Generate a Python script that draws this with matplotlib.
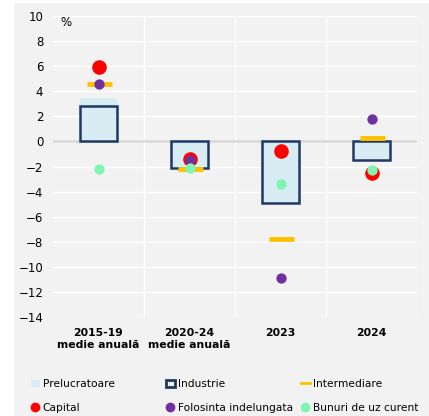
import matplotlib.pyplot as plt
import numpy as np
from matplotlib.patches import Rectangle
from matplotlib.lines import Line2D

# date
categorii = ["2015-19\nmedie anuală", "2020-24\nmedie anuală", "2023", "2024"]
prelucratoare = [3.5, -2.1, -4.9, -1.5]
industrie = [2.8, -2.1, -4.9, -1.5]
intermediare = [4.6, -2.2, -7.8, 0.3]
capital = [5.9, -1.4, -0.8, -2.5]
folosinta = [4.6, -1.5, -10.9, 1.8]
bunuri = [-2.2, -2.1, -3.4, -2.3]

bg = "#f2f2f2"
c_prel = "#d8ecf3"
c_ind = "#203864"
c_int = "#ffc000"
c_cap = "#ff0000"
c_fol = "#7030a0"
c_bun = "#80f5b0"

fig = plt.figure(figsize=(4.29, 4.16), dpi=100, facecolor=bg)
# margine alba sus si in stanga
fig.add_artist(Rectangle((0, 0), 14/429, 1, transform=fig.transFigure,
                         facecolor="white", edgecolor="none", zorder=-1))
fig.add_artist(Rectangle((0, 1 - 3/416), 1, 3/416, transform=fig.transFigure,
                         facecolor="white", edgecolor="none", zorder=-1))
ax = fig.add_axes([53/429, 99/416, 364/429, 301/416])
ax.set_facecolor(bg)

x = np.arange(len(categorii))
w = 0.4
ax.bar(x, prelucratoare, width=w, color=c_prel, zorder=2)
ax.bar(x, industrie, width=w, facecolor="none", edgecolor=c_ind, linewidth=1.8, zorder=3)
ax.plot(x, intermediare, linestyle="none", marker="_", markersize=18,
        markeredgewidth=3.5, color=c_int, zorder=4)
ax.scatter(x, capital, s=110, color=c_cap, zorder=5, linewidths=0)
ax.scatter(x, folosinta, s=55, color=c_fol, zorder=6, linewidths=0)
ax.scatter(x, bunuri, s=55, color=c_bun, zorder=7, linewidths=0)

ax.axhline(0, color="#d9d9d9", linewidth=1.8, zorder=1)
ax.set_xlim(-0.5, 3.5)
ax.set_ylim(-14, 10)
ax.set_yticks(np.arange(-14, 11, 2))
ax.set_xticks(x + 0.5, minor=True)
ax.set_xticks(x)
ax.set_xticklabels(categorii, fontweight="bold", fontsize=7.8)
ax.tick_params(axis="y", labelsize=8.5, length=0, pad=7)
ax.tick_params(axis="x", which="both", length=0, pad=8)
ax.grid(axis="y", color="white", linewidth=1)
ax.grid(axis="x", which="minor", color="white", linewidth=1)
ax.set_axisbelow(True)
for s in ax.spines.values():
    s.set_visible(False)
ax.text(0.02, 1.0, "%", transform=ax.transAxes, fontsize=8.5, va="top")

# legenda: trei coloane la pozitii fixe
coloane = [
    ([Rectangle((0, 0), 1, 1, facecolor=c_prel, edgecolor="none"),
      Line2D([], [], linestyle="none", marker="o", markersize=6, color=c_cap)],
     ["Prelucratoare", "Capital"], 31),
    ([Rectangle((0, 0), 1, 1, facecolor=bg, edgecolor=c_ind, linewidth=2),
      Line2D([], [], linestyle="none", marker="o", markersize=6, color=c_fol)],
     ["Industrie", "Folosinta indelungata"], 166),
    ([Line2D([], [], color=c_int, linewidth=2),
      Line2D([], [], linestyle="none", marker="o", markersize=6, color=c_bun)],
     ["Intermediare", "Bunuri de uz curent"], 301),
]
for h, l, xp in coloane:
    fig.legend(h, l, loc="upper left", bbox_to_anchor=(xp/429, 1 - 379/416),
               ncol=1, frameon=False, fontsize=7.7, handlelength=0.8,
               handletextpad=0.3, labelspacing=1.3, borderpad=0,
               borderaxespad=0)

fig.savefig("out.png", dpi=100, facecolor=fig.get_facecolor())
